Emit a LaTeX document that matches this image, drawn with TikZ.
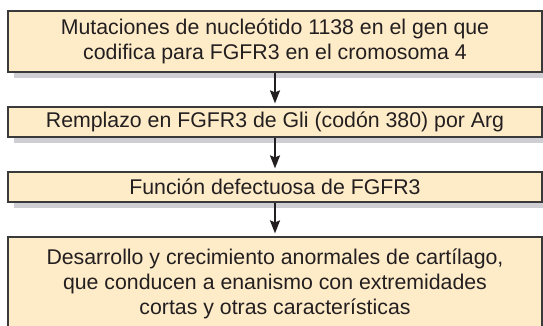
\documentclass[tikz,border=0pt]{standalone}
\usepackage{fontspec}
\setmainfont{Liberation Sans}
\usetikzlibrary{arrows.meta,shadows}
\definecolor{boxfill}{HTML}{FEEBC8}
\definecolor{boxline}{HTML}{3A3A3A}
\definecolor{shadowcol}{HTML}{CFCFD3}
\definecolor{txt}{HTML}{231F20}
\tikzset{
  flowbox/.style={draw=boxline, line width=1.2pt, fill=boxfill, text=txt,
    minimum width=534pt, inner sep=0pt, align=center,
    font=\fontsize{21.3}{25}\selectfont,
    drop shadow={shadow xshift=6pt, shadow yshift=-6pt, fill=shadowcol, opacity=1}},
  flowarrow/.style={draw=txt, line width=1.8pt,
    -{Stealth[width=10pt,length=13pt,inset=2pt]}, shorten >=3pt}
}
\begin{document}
\begin{tikzpicture}[x=1pt,y=-1pt]
\useasboundingbox (0,0) rectangle (543,325);
\clip (0,0) rectangle (543,325);
\node[flowbox, minimum height=61pt] (b1) at (275,41.5)
  {Mutaciones de nucleótido 1138 en el gen que\\codifica para FGFR3 en el cromosoma 4};
\node[flowbox, minimum height=30pt] (b2) at (275,122)
  {Remplazo en FGFR3 de Gli (codón 380) por Arg};
\node[flowbox, minimum height=30pt] (b3) at (275,187)
  {Función defectuosa de FGFR3};
\node[flowbox, minimum height=94pt] (b4) at (275,284)
  {Desarrollo y crecimiento anormales de cartílago,\\que conducen a enanismo con extremidades\\cortas y otras características};
\draw[flowarrow] (b1.south) -- (b2.north);
\draw[flowarrow] (b2.south) -- (b3.north);
\draw[flowarrow] (b3.south) -- (b4.north);
\end{tikzpicture}
\end{document}
